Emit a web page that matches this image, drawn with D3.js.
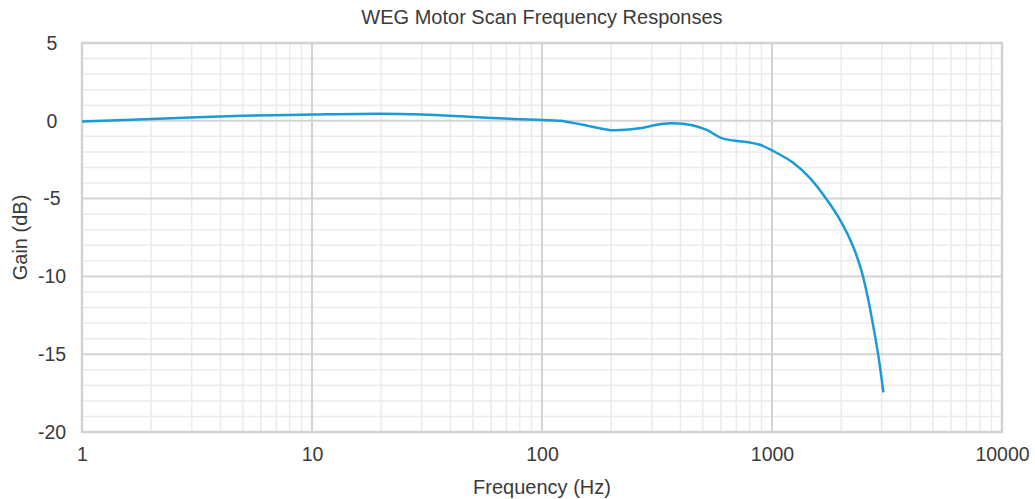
<!DOCTYPE html>
<html>
<head>
<meta charset="utf-8">
<script src="https://cdn.jsdelivr.net/npm/d3@7"></script>
<style>
  body { margin: 0; background: #fff; }
  text { font-family: "Liberation Sans", Arial, sans-serif; fill: #3a3a3a; }
</style>
</head>
<body>
<script>
// frequency response
var freqs = [1, 2, 5, 10, 20, 30, 50, 80, 100, 120, 150, 200, 260, 330, 370, 450, 520, 600, 680, 800, 887, 1000, 1240, 1460, 1730, 2010, 2250, 2450, 2600, 2710, 2900, 3050];
var gains = [-0.05, 0.12, 0.32, 0.4, 0.45, 0.4, 0.24, 0.1, 0.05, 0.0, -0.25, -0.6, -0.5, -0.2, -0.15, -0.28, -0.58, -1.1, -1.27, -1.4, -1.54, -1.9, -2.71, -3.67, -5.06, -6.56, -8.06, -9.65, -11.25, -12.6, -15.1, -17.45];
var xTicks = [1, 10, 100, 1000, 10000];
var yTicks = [5, 0, -5, -10, -15, -20];

var width = 1035, height = 499;
var margin = { top: 43, right: 33, bottom: 67, left: 82 };
var fontSize = 19.5;

var svg = d3.select('body').append('svg').attr('width', width).attr('height', height);

var x = d3.scaleLog().domain([1, 10000]).range([margin.left, width - margin.right]);
var y = d3.scaleLinear().domain([-20, 5]).range([height - margin.bottom, margin.top]);

// minor grid
var minorX = [];
for (var d = 1; d < 10000; d *= 10) {
  for (var k = 2; k < 10; k++) minorX.push(d * k);
}
var minorY = d3.range(-20, 6).filter(function (v) { return v % 5 !== 0; });

var grid = svg.append('g');
grid.selectAll('.mx').data(minorX).enter().append('line')
  .attr('x1', function (d) { return x(d); }).attr('x2', function (d) { return x(d); })
  .attr('y1', y(5)).attr('y2', y(-20))
  .attr('stroke', '#ebebeb').attr('stroke-width', 1.5);
grid.selectAll('.my').data(minorY).enter().append('line')
  .attr('x1', x(1)).attr('x2', x(10000))
  .attr('y1', function (d) { return y(d); }).attr('y2', function (d) { return y(d); })
  .attr('stroke', '#ebebeb').attr('stroke-width', 1.5);

// major grid
grid.selectAll('.Mx').data(xTicks).enter().append('line')
  .attr('x1', function (d) { return x(d); }).attr('x2', function (d) { return x(d); })
  .attr('y1', y(5)).attr('y2', y(-20))
  .attr('stroke', '#d3d3d3').attr('stroke-width', 2);
grid.selectAll('.My').data(yTicks).enter().append('line')
  .attr('x1', x(1)).attr('x2', x(10000))
  .attr('y1', function (d) { return y(d); }).attr('y2', function (d) { return y(d); })
  .attr('stroke', '#d3d3d3').attr('stroke-width', 2);

svg.append('rect')
  .attr('x', x(1)).attr('y', y(5))
  .attr('width', x(10000) - x(1)).attr('height', y(-20) - y(5))
  .attr('fill', 'none').attr('stroke', '#d3d3d3').attr('stroke-width', 2.5);

// axes (labels only)
var xAxis = d3.axisBottom(x).tickValues(xTicks).tickFormat(function (d) { return String(d); })
  .tickSize(0).tickPadding(15);
svg.append('g').attr('transform', 'translate(0,' + y(-20) + ')').call(xAxis)
  .call(function (g) { g.select('.domain').remove(); })
  .selectAll('text').attr('font-size', fontSize).attr('fill', '#3a3a3a');

// y labels are centred in a column left of the plot
var yAxis = d3.axisLeft(y).tickValues(yTicks).tickFormat(function (d) { return String(d); })
  .tickSize(0).tickPadding(0);
svg.append('g').attr('transform', 'translate(52,0)').call(yAxis)
  .call(function (g) { g.select('.domain').remove(); })
  .selectAll('text').attr('text-anchor', 'middle').attr('font-size', fontSize).attr('fill', '#3a3a3a');

// line
var pts = freqs.map(function (f, i) { return [f, gains[i]]; });
var line = d3.line()
  .x(function (d) { return x(d[0]); })
  .y(function (d) { return y(d[1]); })
  .curve(d3.curveCatmullRom.alpha(0.5));
svg.append('path').datum(pts)
  .attr('d', line)
  .attr('fill', 'none')
  .attr('stroke', '#1a9ad6')
  .attr('stroke-width', 2.5);

// titles
svg.append('text').attr('x', (x(1) + x(10000)) / 2).attr('y', 24)
  .attr('text-anchor', 'middle').attr('font-size', 20).text('WEG Motor Scan Frequency Responses');
svg.append('text').attr('x', (x(1) + x(10000)) / 2).attr('y', 494)
  .attr('text-anchor', 'middle').attr('font-size', 20).text('Frequency (Hz)');
svg.append('text')
  .attr('transform', 'translate(27,' + y(-7.5) + ') rotate(-90)')
  .attr('text-anchor', 'middle').attr('font-size', 20).text('Gain (dB)');
</script>
</body>
</html>
